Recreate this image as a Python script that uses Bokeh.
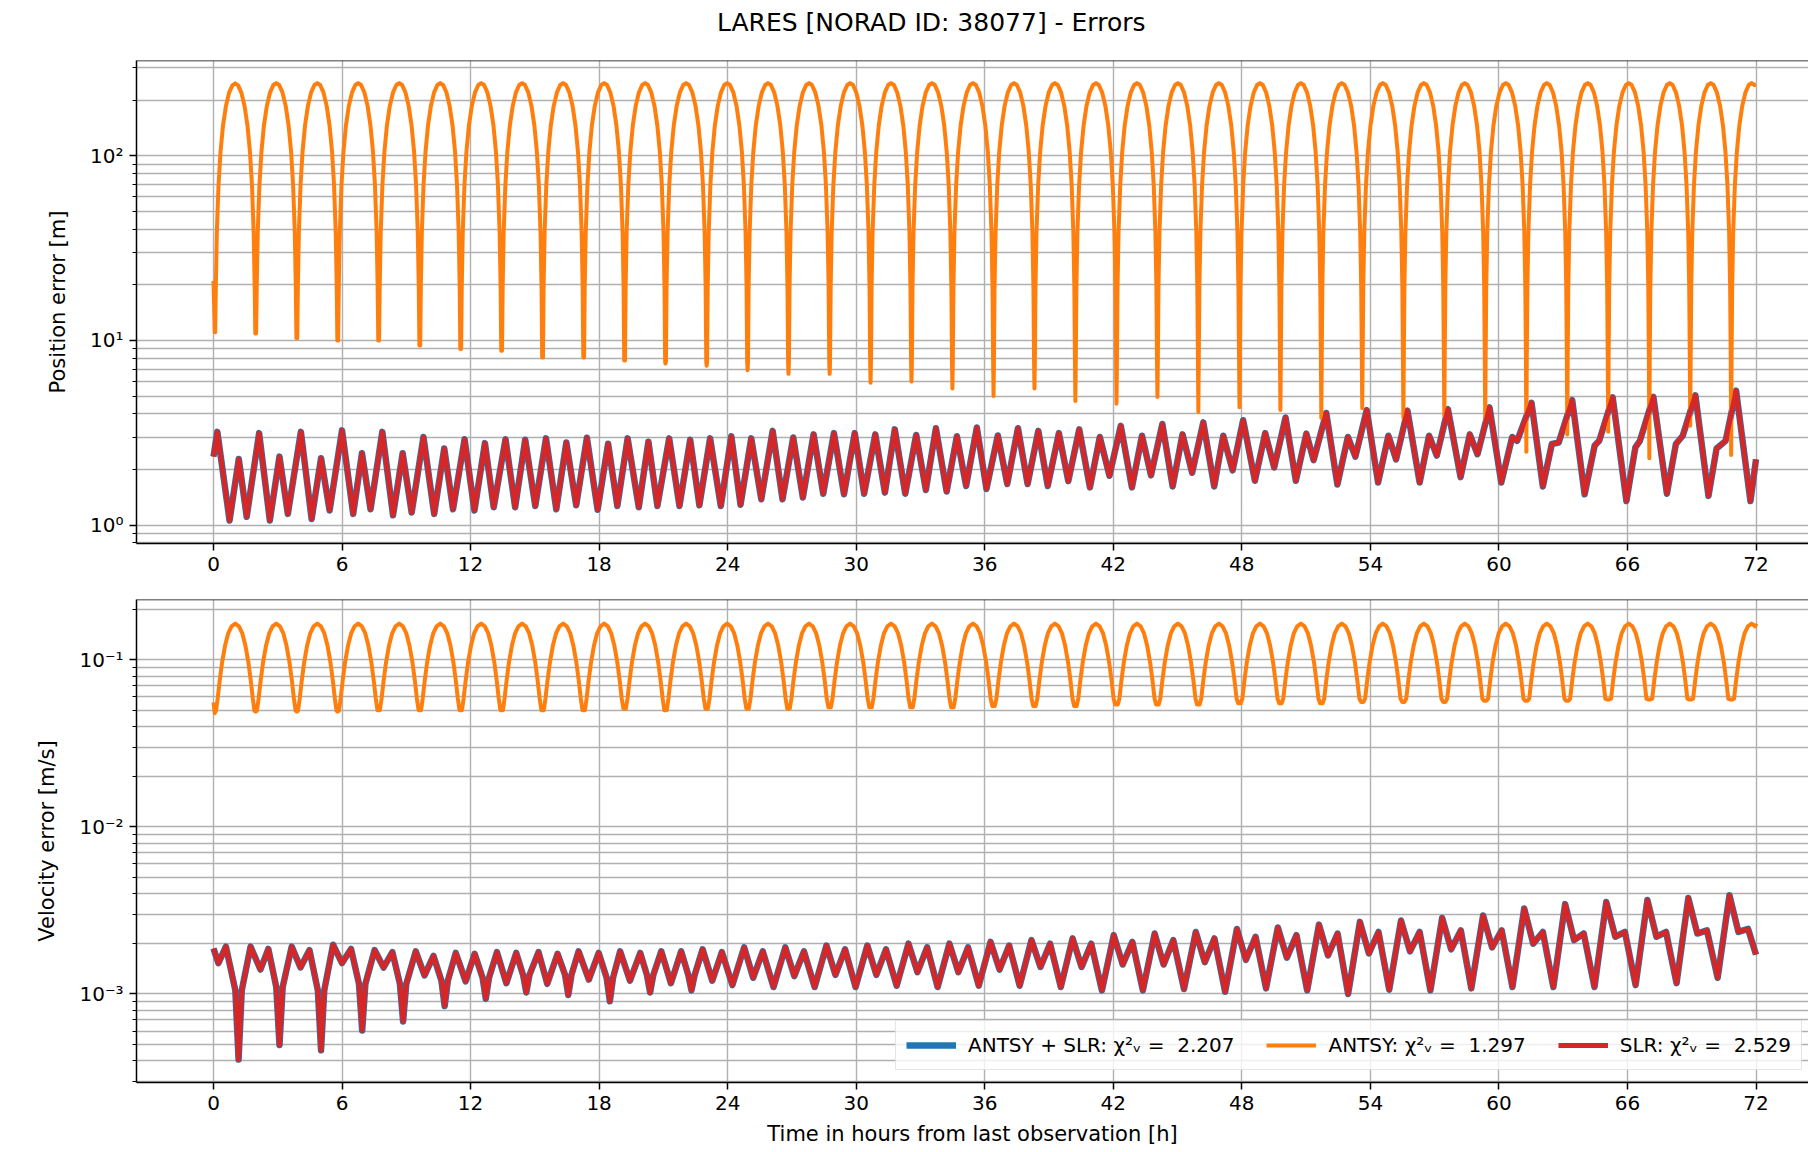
import numpy as np
from bokeh.plotting import figure
from bokeh.models import Range1d, FixedTicker, Legend, LegendItem, Span, Div
from bokeh.layouts import column
from bokeh.embed import file_html
from bokeh.resources import INLINE

FONT = "DejaVu Sans"
GRID = "#b0b0b0"
C_BLUE, C_ORANGE, C_RED = "#1f77b4", "#ff7f0e", "#d62728"

# ---------------- texts / axis ticks ----------------
title_text = "LARES [NORAD ID: 38077] - Errors"
hour_ticks = [0, 6, 12, 18, 24, 30, 36, 42, 48, 54, 60, 66, 72]
pos_ticks = [1, 10, 100]
pos_tick_labels = ["10⁰", "10¹", "10²"]
pos_minor = [0.8, 0.9, 2, 3, 4, 5, 6, 7, 8, 9, 20, 30, 40, 50, 60, 70, 80, 90, 200, 300]
vel_ticks = [0.001, 0.01, 0.1]
vel_tick_labels = ["10⁻³", "10⁻²", "10⁻¹"]
vel_minor = [0.0003, 0.0004, 0.0005, 0.0006, 0.0007, 0.0008, 0.0009,
             0.002, 0.003, 0.004, 0.005, 0.006, 0.007, 0.008, 0.009,
             0.02, 0.03, 0.04, 0.05, 0.06, 0.07, 0.08, 0.09, 0.2]
series_labels = ["ANTSY + SLR: χ²ᵥ =  2.207", "ANTSY: χ²ᵥ =  1.297", "SLR: χ²ᵥ =  2.529"]

# ---------------- ANTSY (orange) : one arch per orbit ----------------
# times of the minima of the ANTSY error [h]
antsy_dip_t = [0.06, 1.97, 3.89, 5.80, 7.71, 9.63, 11.54, 13.45, 15.36, 17.28,
               19.19, 21.10, 23.02, 24.93, 26.84, 28.76, 30.67, 32.58, 34.49, 36.41,
               38.32, 40.23, 42.15, 44.06, 45.97, 47.89, 49.80, 51.71, 53.62, 55.54,
               57.45, 59.36, 61.28, 63.19, 65.10, 67.02, 68.93, 70.84]
# position error at the minima / maxima [m]
antsy_pos_dip = [11.1, 10.9, 10.3, 10.0, 10.0, 9.4, 9.0, 8.8, 8.1, 8.1,
                 7.8, 7.5, 7.3, 6.9, 6.6, 6.6, 5.9, 6.0, 5.5, 5.0,
                 5.5, 4.7, 4.55, 4.95, 4.1, 4.35, 4.2, 3.8, 4.3, 3.8,
                 3.9, 3.6, 2.5, 3.1, 3.2, 2.3, 3.45, 2.4]
antsy_pos_peak = [247, 248, 248, 248, 248, 248, 248, 248, 248, 248,
                  248, 248, 248, 248, 248, 248, 248, 248, 248, 248,
                  248, 248, 248, 248, 248, 248, 248, 248, 248, 248,
                  248, 248, 248, 248, 248, 248, 248, 248]
antsy_pos_first, antsy_pos_last = 21.0, 243.0
# velocity error at the minima / maxima [m/s]
antsy_vel_dip = [0.048, 0.049, 0.049, 0.049, 0.050, 0.050, 0.050, 0.050, 0.050, 0.050,
                 0.051, 0.050, 0.051, 0.051, 0.051, 0.052, 0.052, 0.052, 0.052, 0.053,
                 0.053, 0.053, 0.054, 0.054, 0.054, 0.055, 0.055, 0.055, 0.056, 0.056,
                 0.056, 0.057, 0.057, 0.057, 0.058, 0.058, 0.058, 0.058]
antsy_vel_peak = [0.165, 0.165, 0.165, 0.165, 0.165, 0.165, 0.165, 0.165, 0.165, 0.165,
                  0.165, 0.165, 0.165, 0.165, 0.165, 0.165, 0.165, 0.165, 0.165, 0.165,
                  0.165, 0.165, 0.165, 0.165, 0.165, 0.165, 0.165, 0.165, 0.165, 0.165,
                  0.165, 0.165, 0.165, 0.165, 0.165, 0.165, 0.165, 0.165]
antsy_vel_first, antsy_vel_last = 0.0557, 0.165
# shape of one arch, read from the first arches (fraction of orbit, fraction of the peak)
pos_arch_phase = [0.0, 0.01, 0.025, 0.05, 0.09, 0.14, 0.2, 0.27, 0.35, 0.43, 0.5,
                  0.57, 0.65, 0.73, 0.8, 0.86, 0.91, 0.95, 0.975, 0.99]
pos_arch_rel = [0.0, 0.031, 0.078, 0.156, 0.278, 0.426, 0.588, 0.75, 0.891, 0.976, 1.0,
                0.976, 0.891, 0.75, 0.588, 0.426, 0.278, 0.156, 0.078, 0.031]
vel_arch_phase = [0.0, 0.03, 0.07, 0.12, 0.18, 0.25, 0.33, 0.41, 0.5,
                  0.59, 0.67, 0.75, 0.82, 0.88, 0.93, 0.97]
vel_arch_rel = [0.0, 0.301, 0.355, 0.455, 0.588, 0.736, 0.878, 0.963, 1.0,
                0.963, 0.878, 0.736, 0.588, 0.455, 0.355, 0.301]

# ---------------- SLR (red) and ANTSY + SLR (blue) : extrema ----------------
slr_pos_t = [0.0, 0.18, 0.75, 1.18, 1.55, 2.13, 2.63, 3.08, 3.47, 4.08,
             4.58, 5.02, 5.42, 6.0, 6.52, 6.93, 7.33, 7.88, 8.38, 8.83,
             9.25, 9.8, 10.3, 10.77, 11.18, 11.72, 12.18, 12.67, 13.08, 13.63,
             14.08, 14.55, 15.02, 15.52, 16.0, 16.47, 16.93, 17.43, 17.93, 18.42,
             18.85, 19.33, 19.85, 20.3, 20.72, 21.27, 21.75, 22.25, 22.68, 23.18,
             23.68, 24.17, 24.6,
             25.1, 25.57, 26.1, 26.56, 27.06, 27.51, 28.01, 28.46, 28.96, 29.43,
             29.93, 30.37, 30.89, 31.34, 31.8, 32.29, 32.8, 33.25, 33.72, 34.22,
             34.7, 35.13, 35.63, 36.08, 36.61, 37.05, 37.55, 38.0, 38.5, 38.94,
             39.46, 39.9, 40.41, 40.91, 41.37, 41.82,
             42.35, 42.87, 43.34, 43.76, 44.29, 44.77, 45.23, 45.68, 46.2, 46.71,
             47.13, 47.57, 48.06, 48.61, 49.09, 49.51, 50.04, 50.52, 51.01, 51.35,
             51.94, 52.46, 52.95, 53.3, 53.83, 54.36, 54.84, 55.2, 55.73, 56.3,
             56.74, 57.1, 57.62, 58.21, 58.64, 59.0, 59.56, 60.11, 60.62, 60.85,
             61.52, 62.05, 62.47, 62.79, 63.42, 64.0, 64.47, 64.68, 65.31, 65.95,
             66.37, 66.58, 67.21, 67.84, 68.26, 68.58, 69.17, 69.78, 70.16, 70.58,
             71.07, 71.74, 72.0]
slr_pos_v = [2.35, 3.2, 1.06, 2.28, 1.11, 3.15, 1.06, 2.35, 1.15, 3.2,
             1.08, 2.3, 1.2, 3.26, 1.15, 2.45, 1.22, 3.2, 1.13, 2.45,
             1.17, 3.0, 1.15, 2.6, 1.22, 2.92, 1.2, 2.78, 1.25, 2.92,
             1.25, 2.9, 1.27, 2.95, 1.22, 2.8, 1.28, 2.97, 1.21, 2.76,
             1.27, 2.95, 1.25, 2.83, 1.27, 2.95, 1.27, 2.9, 1.28, 2.95,
             1.27, 3.03, 1.29,
             2.95, 1.38, 3.24, 1.38, 2.98, 1.41, 3.1, 1.48, 3.15, 1.47,
             3.15, 1.48, 3.1, 1.5, 3.3, 1.48, 3.08, 1.55, 3.35, 1.52,
             3.03, 1.63, 3.38, 1.57, 3.06, 1.67, 3.35, 1.67, 3.24, 1.63,
             3.15, 1.73, 3.3, 1.6, 3.0, 1.85,
             3.45, 1.6, 3.05, 1.86, 3.53, 1.62, 3.1, 1.92, 3.6, 1.62,
             3.05, 1.98, 3.7, 1.74, 3.15, 2.05, 3.83, 1.74, 3.13, 2.25,
             4.05, 1.66, 3.0, 2.35, 4.2, 1.7, 3.05, 2.27, 4.17, 1.7,
             3.05, 2.38, 4.25, 1.82, 3.1, 2.42, 4.34, 1.7, 3.0, 2.86,
             4.6, 1.62, 2.75, 2.8, 4.75, 1.47, 2.7, 2.86, 4.92, 1.35,
             2.64, 2.86, 4.95, 1.48, 2.75, 3.05, 5.05, 1.44, 2.6, 2.86,
             5.35, 1.35, 2.27]

slr_vel_t = [0.0, 0.23, 0.58,
             1.02, 1.17, 1.32, 1.73, 2.19, 2.56,
             2.93, 3.08, 3.23, 3.65, 4.06, 4.48,
             4.87, 5.02, 5.17, 5.58, 6.0, 6.42,
             6.79, 6.94, 7.09, 7.52, 7.94, 8.35,
             8.7, 8.85, 9.0, 9.44, 9.85, 10.27,
             10.64, 10.79, 10.94, 11.31, 11.77, 12.19,
             12.56, 12.71, 12.86, 13.23, 13.67, 14.13,
             14.45, 14.6, 14.75, 15.17, 15.58, 16.06,
             16.41, 16.56, 16.71, 17.04, 17.52, 17.98,
             18.35, 18.5, 18.65, 18.98, 19.44, 19.92,
             20.23, 20.38, 20.53, 20.9, 21.35, 21.83,
             22.16, 22.31, 22.46, 22.83, 23.28, 23.73,
             24.22, 24.77, 25.19, 25.64, 26.14, 26.69, 27.11, 27.56,
             28.06, 28.61, 29.03, 29.48, 29.97, 30.52, 30.94, 31.39,
             31.89, 32.44, 32.86, 33.31, 33.8, 34.35, 34.77, 35.22,
             35.72, 36.27, 36.69, 37.14, 37.63, 38.18, 38.6, 39.05,
             39.55, 40.1, 40.52, 40.97, 41.47, 42.02, 42.44, 42.89,
             43.38, 43.93, 44.35, 44.8, 45.3, 45.85, 46.27, 46.72,
             47.22, 47.77, 48.19, 48.64, 49.13, 49.68, 50.1, 50.55,
             51.05, 51.6, 52.02, 52.47, 52.96, 53.51, 53.93, 54.38,
             54.88, 55.43, 55.85, 56.3, 56.8, 57.35, 57.77, 58.22,
             58.71, 59.26, 59.68, 60.13, 60.63, 61.18, 61.6, 62.05,
             62.54, 63.09, 63.51, 63.96, 64.46, 65.01, 65.43, 65.88,
             66.38, 66.93, 67.35, 67.8, 68.29, 68.84, 69.26, 69.71,
             70.21, 70.76, 71.18, 71.63, 72.0]
# SLR velocity error in units of 1e-3 m/s
slr_vel_v_e3 = [1.87, 1.53, 1.92,
                1.05, 0.405, 1.05, 1.92, 1.40, 1.86,
                1.1, 0.495, 1.1, 1.92, 1.44, 1.83,
                1.05, 0.46, 1.05, 1.97, 1.53, 1.86,
                1.15, 0.605, 1.15, 1.83, 1.44, 1.78,
                1.15, 0.685, 1.15, 1.80, 1.29, 1.69,
                1.2, 0.847, 1.2, 1.76, 1.19, 1.74,
                1.25, 0.937, 1.25, 1.78, 1.16, 1.76,
                1.3, 1.02, 1.3, 1.78, 1.15, 1.74,
                1.3, 0.985, 1.3, 1.80, 1.22, 1.76,
                1.25, 0.905, 1.25, 1.80, 1.20, 1.76,
                1.3, 1.02, 1.3, 1.80, 1.16, 1.80,
                1.3, 1.05, 1.3, 1.85, 1.2, 1.78,
                1.13, 1.9, 1.25, 1.8, 1.1, 1.9, 1.28, 1.8,
                1.1, 1.95, 1.3, 1.85, 1.1, 1.95, 1.3, 1.85,
                1.12, 2.0, 1.35, 1.9, 1.1, 2.0, 1.35, 1.9,
                1.12, 2.05, 1.4, 1.95, 1.12, 2.1, 1.45, 2.0,
                1.1, 2.15, 1.45, 2.0, 1.05, 2.25, 1.5, 2.05,
                1.05, 2.3, 1.5, 2.1, 1.07, 2.35, 1.55, 2.15,
                1.03, 2.45, 1.6, 2.2, 1.08, 2.5, 1.65, 2.25,
                1.05, 2.6, 1.7, 2.3, 1.0, 2.7, 1.75, 2.35,
                1.06, 2.75, 1.8, 2.35, 1.05, 2.85, 1.85, 2.4,
                1.08, 2.95, 1.9, 2.4, 1.1, 3.25, 2.0, 2.35,
                1.1, 3.45, 2.1, 2.3, 1.1, 3.55, 2.2, 2.35,
                1.13, 3.65, 2.2, 2.35, 1.16, 3.75, 2.3, 2.4,
                1.25, 3.9, 2.35, 2.45, 1.72]

# ANTSY + SLR lies on top of SLR everywhere in the picture
combo_pos_t, combo_pos_v = slr_pos_t, slr_pos_v
combo_vel_t, combo_vel_v_e3 = slr_vel_t, slr_vel_v_e3


def arches(dip_t, dips, peaks, phase, rel, first, last, t_end=72.0):
    ts, vs = [0.0], [first]
    n = len(dip_t)
    for k in range(n):
        period = (dip_t[k + 1] - dip_t[k]) if k + 1 < n else (dip_t[k] - dip_t[k - 1])
        nxt = dips[k + 1] if k + 1 < n else dips[k]
        for ph, r in zip(phase, rel):
            t = dip_t[k] + ph * period
            if t >= t_end:
                break
            if ph == 0:
                v = dips[k]
            else:
                v = max(dips[k] if ph <= 0.5 else nxt, r * peaks[k])
            ts.append(t)
            vs.append(v)
    ts.append(t_end)
    vs.append(last)
    return ts, vs


antsy_pos_t, antsy_pos_v = arches(antsy_dip_t, antsy_pos_dip, antsy_pos_peak,
                                  pos_arch_phase, pos_arch_rel, antsy_pos_first, antsy_pos_last)
antsy_vel_t, antsy_vel_v = arches(antsy_dip_t, antsy_vel_dip, antsy_vel_peak,
                                  vel_arch_phase, vel_arch_rel, antsy_vel_first, antsy_vel_last)
slr_vel_v = [v * 1e-3 for v in slr_vel_v_e3]
combo_vel_v = [v * 1e-3 for v in combo_vel_v_e3]

x_rng = Range1d(-3.594, 74.45)


def make_fig(height, ylo, yhi, b_top, b_bottom, ticks, minor, labels, ylabel):
    p = figure(width=1808, height=height, x_range=x_rng, y_range=Range1d(ylo, yhi),
               y_axis_type="log", output_backend="svg", toolbar_location=None,
               min_border_left=136, min_border_right=0,
               min_border_top=b_top, min_border_bottom=b_bottom)
    p.outline_line_color = None
    p.xaxis.ticker = FixedTicker(ticks=hour_ticks, minor_ticks=[])
    p.yaxis.ticker = FixedTicker(ticks=ticks, minor_ticks=minor)
    p.yaxis.major_label_overrides = dict(zip(ticks, labels))
    for ax in (p.xaxis[0], p.yaxis[0]):
        ax.axis_line_color = "black"
        ax.axis_line_width = 1.5
        ax.major_tick_line_color = "black"
        ax.major_tick_line_width = 1.5
        ax.minor_tick_line_color = "black"
        ax.minor_tick_line_width = 1.2
        ax.major_tick_in = 0
        ax.major_tick_out = 7
        ax.minor_tick_in = 0
        ax.major_label_text_font = FONT
        ax.major_label_text_font_size = "20px"
        ax.major_label_text_color = "black"
        ax.major_label_standoff = 6
        ax.axis_label_text_font = FONT
        ax.axis_label_text_font_size = "21px"
        ax.axis_label_text_font_style = "normal"
        ax.axis_label_text_color = "black"
    p.xaxis.minor_tick_out = 0
    p.yaxis.minor_tick_out = 4
    p.yaxis.axis_label = ylabel
    p.yaxis.axis_label_standoff = 17
    p.xgrid.grid_line_color = GRID
    p.xgrid.grid_line_width = 1.4
    p.ygrid.grid_line_color = GRID
    p.ygrid.grid_line_width = 1.4
    p.ygrid.minor_grid_line_color = GRID
    p.ygrid.minor_grid_line_width = 1.4
    p.add_layout(Span(location=yhi, dimension="width", line_color="black", line_width=1.5))
    return p


title_div = Div(text=title_text, width=1808, height=40, margin=0,
                styles={"font-family": FONT, "font-size": "25px", "line-height": "30px",
                        "color": "black", "padding-left": "717px", "padding-top": "8px",
                        "box-sizing": "border-box", "white-space": "nowrap"})

p1 = make_fig(543, 0.795, 328.6, 20, 40, pos_ticks, pos_minor, pos_tick_labels,
              "Position error [m]")

p2 = make_fig(569, 2.95e-4, 0.230, 16, 70, vel_ticks, vel_minor, vel_tick_labels,
              "Velocity error [m/s]")
p2.xaxis.axis_label = "Time in hours from last observation [h]"
p2.xaxis.axis_label_standoff = 9

p1.line(combo_pos_t, combo_pos_v, line_color=C_BLUE, line_width=6.5, line_join="round")
p1.line(antsy_pos_t, antsy_pos_v, line_color=C_ORANGE, line_width=4, line_join="round")
p1.line(slr_pos_t, slr_pos_v, line_color=C_RED, line_width=5, line_join="round")

rb = p2.line(combo_vel_t, combo_vel_v, line_color=C_BLUE, line_width=6.5, line_join="round")
ro = p2.line(antsy_vel_t, antsy_vel_v, line_color=C_ORANGE, line_width=4, line_join="round")
rr = p2.line(slr_vel_t, slr_vel_v, line_color=C_RED, line_width=5, line_join="round")

legend = Legend(items=[LegendItem(label=series_labels[0], renderers=[rb]),
                       LegendItem(label=series_labels[1], renderers=[ro]),
                       LegendItem(label=series_labels[2], renderers=[rr])],
                orientation="horizontal", location=(759, 12))
legend.label_text_font = FONT
legend.label_text_font_size = "20px"
legend.label_text_color = "black"
legend.glyph_width = 50
legend.glyph_height = 28
legend.label_standoff = 12
legend.spacing = 32
legend.padding = 10
legend.margin = 0
legend.border_line_color = "#cccccc"
legend.border_line_width = 1.5
legend.background_fill_alpha = 0.8
p2.add_layout(legend)

layout = column(title_div, p1, p2, spacing=0)
open("out.html", "w").write(file_html(layout, INLINE))
